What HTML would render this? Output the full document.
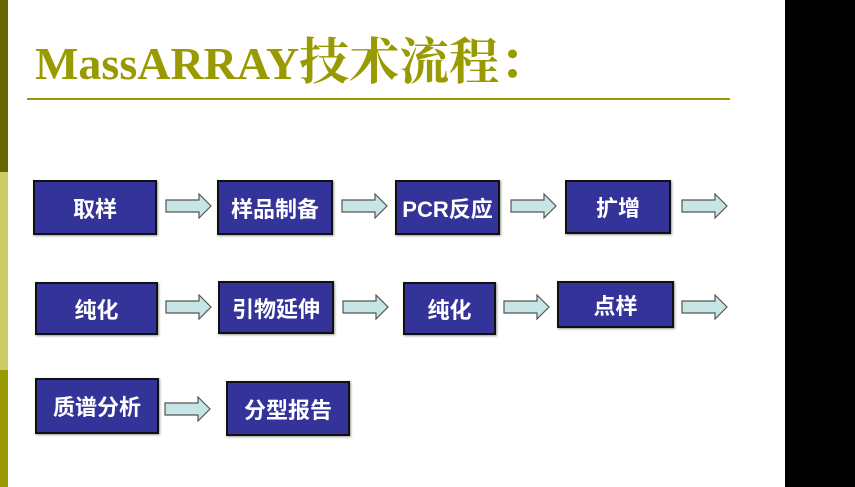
<!DOCTYPE html>
<html><head><meta charset="utf-8"><style>
body{margin:0;width:855px;height:487px;background:#fff;position:relative;overflow:hidden;font-family:"Liberation Sans","Noto Sans CJK SC",sans-serif}
.bar{position:absolute;left:0;width:8px}
.box{position:absolute;background:#333399;border:2px solid #111;box-sizing:border-box;color:#fff;font-weight:bold;font-size:22px;display:flex;align-items:center;justify-content:center;box-shadow:1px 1px 2px #999}
svg.ar{position:absolute;width:48px;height:26px}
</style></head><body>
<div class="bar" style="top:0;height:172px;background:#666600"></div>
<div class="bar" style="top:172px;height:198px;background:#cccc66"></div>
<div class="bar" style="top:370px;height:117px;background:#999900"></div>
<div style="position:absolute;left:785px;top:0;width:70px;height:487px;background:#000"></div>
<div style="position:absolute;left:35px;top:34px;font-family:'Liberation Serif','Noto Serif CJK SC',serif;font-weight:bold;font-size:46px;line-height:56px;color:#999900;white-space:nowrap">MassARRAY<span style="font-size:50px;font-weight:bold">技术流程：</span></div>
<div style="position:absolute;left:27px;top:98px;width:703px;height:2px;background:#999900"></div>

<div class="box" style="left:33px;top:180px;width:124px;height:55px">取样</div>
<div class="box" style="left:217px;top:180px;width:116px;height:55px">样品制备</div>
<div class="box" style="left:395px;top:180px;width:105px;height:55px">PCR反应</div>
<div class="box" style="left:565px;top:180px;width:106px;height:54px">扩增</div>

<div class="box" style="left:35px;top:282px;width:123px;height:53px">纯化</div>
<div class="box" style="left:218px;top:281px;width:116px;height:53px">引物延伸</div>
<div class="box" style="left:403px;top:282px;width:93px;height:53px">纯化</div>
<div class="box" style="left:557px;top:281px;width:117px;height:47px">点样</div>

<div class="box" style="left:35px;top:378px;width:124px;height:56px">质谱分析</div>
<div class="box" style="left:226px;top:381px;width:124px;height:55px">分型报告</div>

<svg width="0" height="0" style="position:absolute"><defs><g id="a"><polygon points="1,7 34,7 34,1 46,13 34,25 34,19 1,19" fill="#c6e6e6" stroke="#555" stroke-width="1.2"/></g></defs></svg>
<svg class="ar" style="left:165px;top:193px"><use href="#a"/></svg>
<svg class="ar" style="left:341px;top:193px"><use href="#a"/></svg>
<svg class="ar" style="left:510px;top:193px"><use href="#a"/></svg>
<svg class="ar" style="left:681px;top:193px"><use href="#a"/></svg>
<svg class="ar" style="left:165px;top:294px"><use href="#a"/></svg>
<svg class="ar" style="left:342px;top:294px"><use href="#a"/></svg>
<svg class="ar" style="left:503px;top:294px"><use href="#a"/></svg>
<svg class="ar" style="left:681px;top:294px"><use href="#a"/></svg>
<svg class="ar" style="left:164px;top:396px"><use href="#a"/></svg>
</body></html>
